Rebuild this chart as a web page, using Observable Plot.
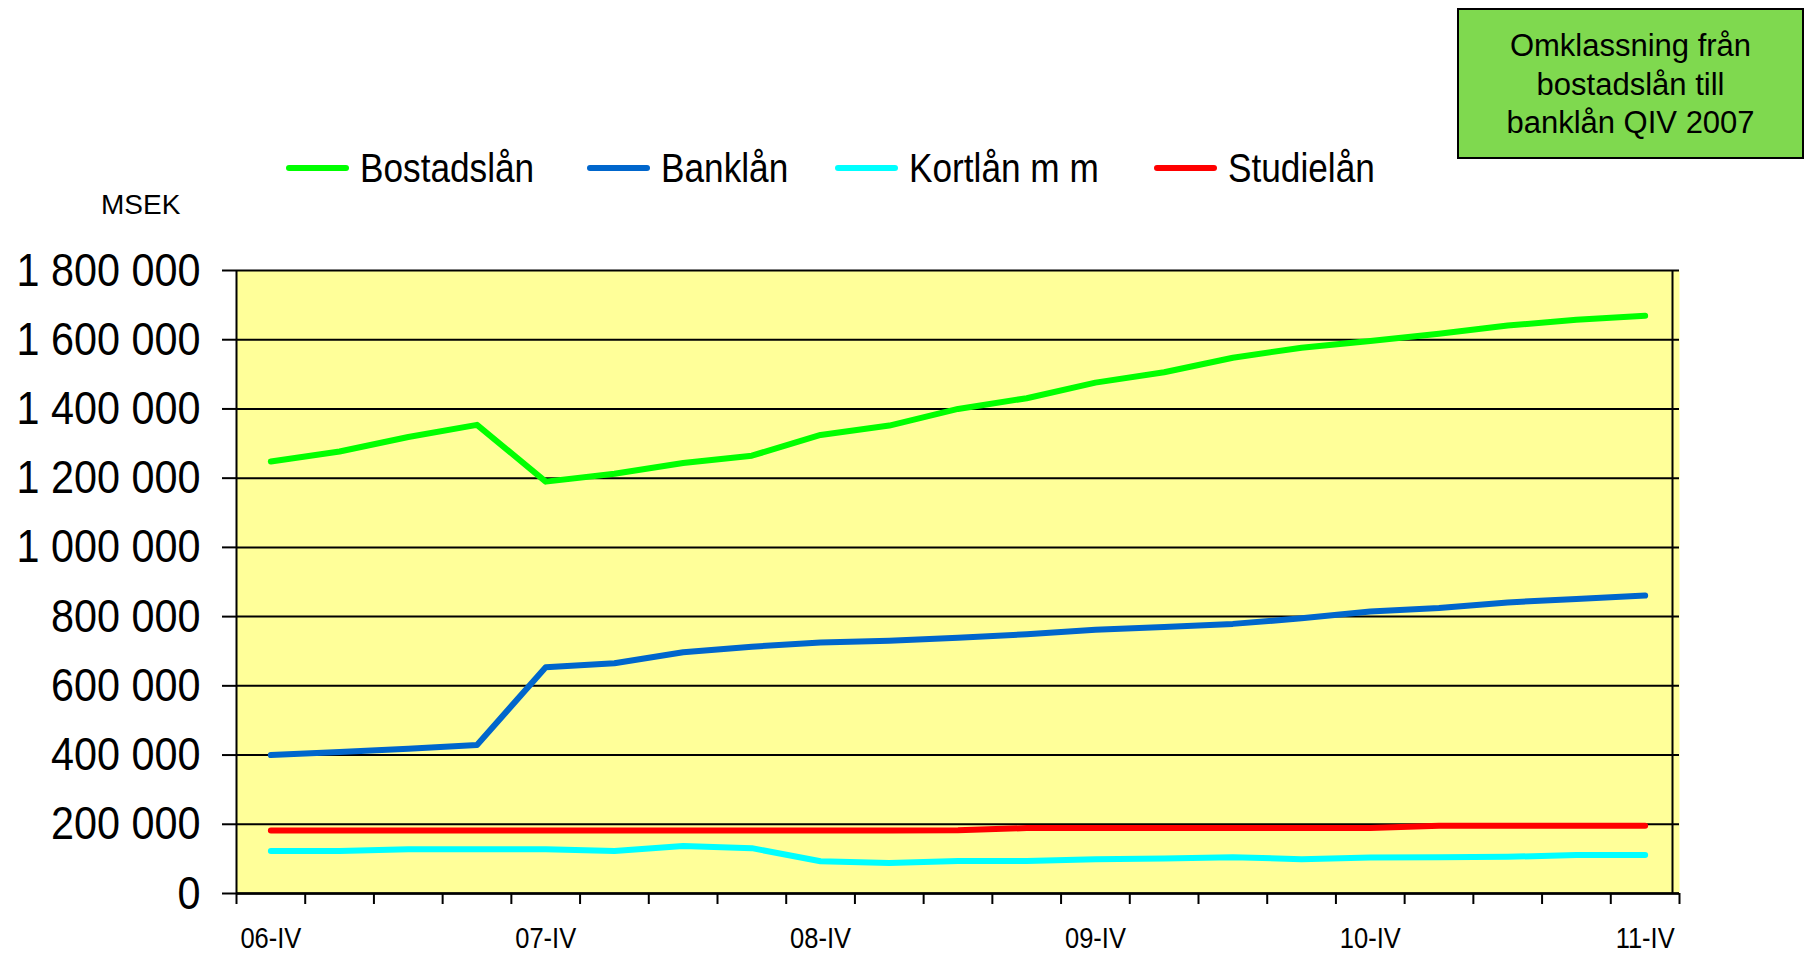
<!DOCTYPE html>
<html>
<head>
<meta charset="utf-8">
<script src="https://cdn.jsdelivr.net/npm/d3@7"></script>
<script src="https://cdn.jsdelivr.net/npm/@observablehq/plot@0.6"></script>
<style>
  body { margin: 0; background: #fff; font-family: "Liberation Sans", Arial, sans-serif; color: #000; }
  #wrap { position: relative; width: 1806px; height: 956px; overflow: hidden; }
  #header { position: relative; width: 1806px; height: 220px; }
  .item { position: absolute; top: 146px; height: 44px; display: flex; align-items: center; white-space: nowrap; }
  .swatch { width: 63px; height: 6px; border-radius: 3px; margin-right: 11px; flex: none; }
  .ltext { display: inline-block; font-size: 40px; line-height: 44px; transform: scaleX(0.88); transform-origin: left center; }
  #msek { position: absolute; left: 101px; top: 191px; font-size: 28px; line-height: 28px; }
  #note { position: absolute; left: 1457px; top: 8px; width: 347px; height: 151px; box-sizing: border-box;
          background: #7fd94f; border: 2px solid #000; padding-top: 17px; text-align: center;
          font-size: 31px; line-height: 38.5px; }
  #chart svg { display: block; }
</style>
</head>
<body>
<div id="wrap">
  <div id="header"></div>
  <div id="chart"></div>
</div>
<script>
// ---- Data (MSEK) ----
const quarters = ["06-IV","07-I","07-II","07-III","07-IV","08-I","08-II","08-III","08-IV",
  "09-I","09-II","09-III","09-IV","10-I","10-II","10-III","10-IV","11-I","11-II","11-III","11-IV"];
const xLabels = ["06-IV","07-IV","08-IV","09-IV","10-IV","11-IV"];
const yTicks = [0, 200000, 400000, 600000, 800000, 1000000, 1200000, 1400000, 1600000, 1800000];

const seriesNames = ["Bostadslån", "Banklån", "Kortlån m m", "Studielån"];
const seriesColors = ["#00ff00", "#0066cc", "#00ffff", "#ff0000"];

const bostadslan = [1248000, 1277000, 1319000, 1354000, 1190000, 1213000, 1244000, 1265000, 1325000, 1352000,
  1400000, 1431000, 1476000, 1506000, 1548000, 1577000, 1596000, 1617000, 1641000, 1658000, 1669000];
const banklan = [400000, 409000, 418000, 429000, 654000, 665000, 697000, 713000, 725000, 730000,
  739000, 749000, 762000, 770000, 779000, 795000, 815000, 825000, 841000, 851000, 861000];
const kortlan = [123000, 123000, 128000, 128000, 128000, 123000, 137000, 131000, 93000, 88000,
  94000, 94000, 99000, 101000, 105000, 99000, 104000, 105000, 106000, 111000, 111000];
const studielan = [182000, 182000, 182000, 182000, 182000, 182000, 182000, 182000, 182000, 182000,
  183000, 189000, 189000, 189000, 189000, 189000, 189000, 196000, 196000, 196000, 196000];

const noteLines = ["Omklassning från", "bostadslån till", "banklån QIV 2007"];
const unitLabel = "MSEK";

// ---- Header (legend, unit, note) ----
const header = document.getElementById("header");
const legendX = [286, 587, 835, 1154];
seriesNames.forEach((name, i) => {
  const it = document.createElement("div");
  it.className = "item";
  it.style.left = legendX[i] + "px";
  const sw = document.createElement("span");
  sw.className = "swatch";
  sw.style.background = seriesColors[i];
  const tx = document.createElement("span");
  tx.className = "ltext";
  tx.textContent = name;
  it.appendChild(sw); it.appendChild(tx);
  header.appendChild(it);
});
const msek = document.createElement("div");
msek.id = "msek"; msek.textContent = unitLabel;
header.appendChild(msek);
const note = document.createElement("div");
note.id = "note";
note.innerHTML = noteLines.map(s => `<div>${s}</div>`).join("");
header.appendChild(note);

// ---- Chart ----
const seriesValues = [bostadslan, banklan, kortlan, studielan];
const rows = [];
seriesNames.forEach((name, s) => {
  quarters.forEach((q, i) => rows.push({series: name, quarter: q, value: seriesValues[s][i]}));
});

const W = 1806, H = 736, mL = 236, mR = 127, mT = 50, mB = 63;
const step = (W - mL - mR) / quarters.length;
const fmt = d => d3.format(",")(d).replace(/,/g, " ");

const chart = Plot.plot({
  width: W, height: H,
  marginLeft: mL, marginRight: mR, marginTop: mT, marginBottom: mB,
  style: {background: "transparent", fontFamily: "Liberation Sans, Arial, sans-serif", color: "#000", overflow: "visible"},
  x: {type: "point", domain: quarters, padding: 0.5, round: false},
  y: {domain: [0, 1800000]},
  color: {domain: seriesNames, range: seriesColors},
  marks: [
    Plot.frame({fill: "#ffff99", stroke: null}),
    Plot.gridY(yTicks, {stroke: "#000", strokeOpacity: 1, strokeWidth: 2}),
    Plot.axisY({ticks: yTicks, tickSize: 14, tickPadding: 22, tickFormat: fmt, fontSize: 47,
      label: null, stroke: "#000", strokeWidth: 2}),
    Plot.axisX({ticks: quarters, tickSize: 11, tickFormat: () => "", dx: -step / 2, label: null,
      stroke: "#000", strokeWidth: 2}),
    Plot.axisX({ticks: [quarters[quarters.length - 1]], tickSize: 11, tickFormat: () => "", dx: step / 2,
      label: null, stroke: "#000", strokeWidth: 2}),
    Plot.axisX({ticks: xLabels, tickSize: 0, tickPadding: 33, fontSize: 30, label: null}),
    Plot.ruleX([quarters[0]], {dx: -step / 2, stroke: "#000", strokeWidth: 2}),
    Plot.ruleX([quarters[quarters.length - 1]], {dx: step / 2 - 7, stroke: "#000", strokeWidth: 2}),
    Plot.ruleY([0], {stroke: "#000", strokeWidth: 2.5}),
    Plot.line(rows, {x: "quarter", y: "value", z: "series", stroke: "series",
      strokeWidth: 6, strokeLinejoin: "round", strokeLinecap: "round"})
  ]
});
document.getElementById("chart").appendChild(chart);

// narrow the axis lettering a bit, like the condensed original font
const svg = d3.select(chart);
svg.selectAll('g[aria-label="y-axis tick label"] text').each(function () {
  const t = this.getAttribute("transform");
  if (t) this.setAttribute("transform", t + " scale(0.88,1)");
});
svg.selectAll('g[aria-label="x-axis tick label"] text').each(function () {
  const t = this.getAttribute("transform");
  if (t) this.setAttribute("transform", t + " scale(0.85,1)");
});
</script>
</body>
</html>
